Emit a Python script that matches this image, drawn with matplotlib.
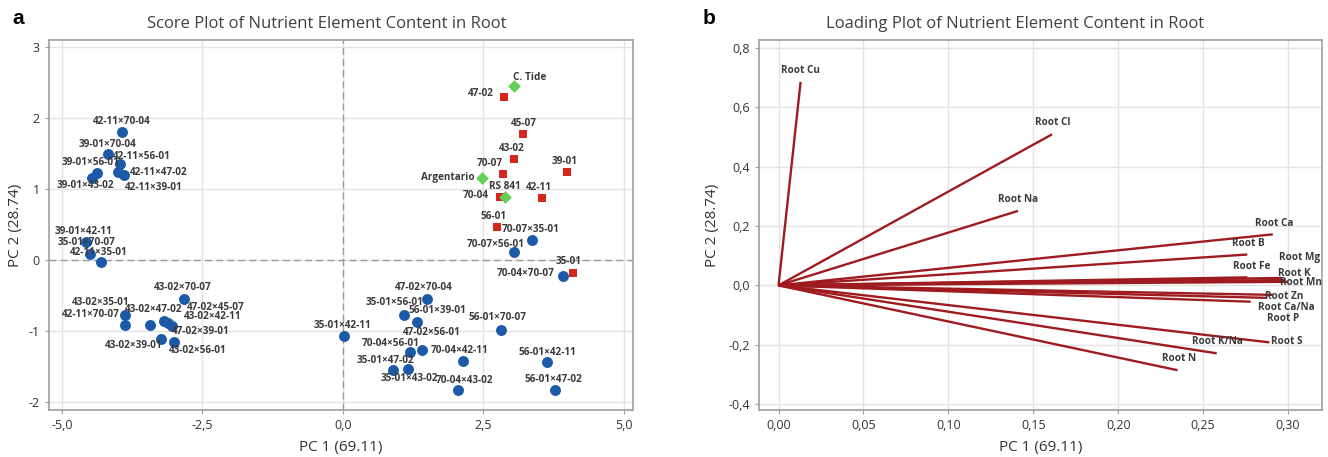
import matplotlib
matplotlib.use("Agg")
import matplotlib.pyplot as plt
from matplotlib.ticker import FuncFormatter

# ---------------- data ----------------
hybrid_labels = ["42-11×70-04", "39-01×70-04", "42-11×56-01", "42-11×47-02", "42-11×39-01",
                 "39-01×56-01", "39-01×43-02", "39-01×42-11", "35-01×70-07", "42-11×35-01",
                 "43-02×70-07", "43-02×35-01", "42-11×70-07", "43-02×47-02", "47-02×45-07",
                 "43-02×42-11", "47-02×39-01", "43-02×39-01", "43-02×56-01",
                 "47-02×70-04", "35-01×56-01", "56-01×39-01", "35-01×42-11", "47-02×56-01",
                 "70-04×56-01", "70-04×42-11", "35-01×47-02", "35-01×43-02", "70-04×43-02",
                 "56-01×70-07", "56-01×42-11", "56-01×47-02", "70-07×35-01", "70-07×56-01",
                 "70-04×70-07"]
hybrid_pc1 = [-3.93, -4.18, -3.97, -4.00, -3.89, -4.37, -4.47, -4.58, -4.50, -4.31,
              -2.83, -3.87, -3.88, -3.44, -3.18, -3.12, -3.05, -3.24, -3.01,
              1.49, 1.09, 1.31, 0.02, 1.40, 1.19, 2.13, 1.15, 0.89, 2.05,
              2.81, 3.63, 3.78, 3.37, 3.04, 3.91]
hybrid_pc2 = [1.81, 1.49, 1.35, 1.24, 1.20, 1.23, 1.15, 0.26, 0.09, -0.03,
              -0.54, -0.77, -0.91, -0.92, -0.85, -0.88, -0.93, -1.11, -1.15,
              -0.54, -0.77, -0.87, -1.07, -1.26, -1.29, -1.42, -1.53, -1.54, -1.83,
              -0.98, -1.44, -1.83, 0.28, 0.12, -0.22]

parent_labels = ["47-02", "45-07", "43-02", "70-07", "39-01", "70-04", "42-11", "56-01", "35-01"]
parent_pc1 = [2.87, 3.21, 3.05, 2.84, 3.98, 2.79, 3.54, 2.74, 4.09]
parent_pc2 = [2.30, 1.78, 1.43, 1.22, 1.24, 0.89, 0.87, 0.46, -0.18]

check_labels = ["C. Tide", "Argentario", "RS 841"]
check_pc1 = [3.05, 2.48, 2.88]
check_pc2 = [2.45, 1.16, 0.89]

loading_labels = ["Root Cu", "Root Cl", "Root Na", "Root Ca", "Root B", "Root Fe", "Root Mg",
                  "Root K", "Root Mn", "Root Zn", "Root Ca/Na", "Root P", "Root S",
                  "Root K/Na", "Root N"]
loading_pc1 = [0.013, 0.161, 0.141, 0.291, 0.276, 0.276, 0.296, 0.298, 0.300, 0.291, 0.278,
               0.287, 0.289, 0.258, 0.235]
loading_pc2 = [0.686, 0.509, 0.251, 0.172, 0.104, 0.027, 0.025, 0.018, 0.012, -0.032, -0.055,
               -0.042, -0.192, -0.229, -0.286]

# ---------------- label layout (pixel offsets) ----------------
hybrid_offsets = [(0, 10), (-1, 10), (22, 8), (41, 0), (29, -13), (-7, 10), (-6, -7), (-2, 10),
                  (-3, 11), (-2, 10), (-1, 11), (-25, 12), (-34, 10), (4, 16), (52, 13),
                  (45, 6), (29, -5), (-27, -7), (24, -9), (-3, 11), (-10, 12), (21, 11),
                  (-2, 11), (10, 17), (-19, 8), (-3, 10), (-22, 8), (16, -9), (6, 10),
                  (-3, 12), (0, 10), (-2, 11), (-2, 11), (-18, 7), (-37, 2)]
parent_offsets = [(-23, 3), (0, 10), (-3, 10), (-13, 10), (-2, 11), (-24, 1), (-3, 11),
                  (-3, 11), (-4, 11)]
check_offsets = [(15, 9), (-35, 0), (0, 10)]
loading_offsets = [(0, 11), (1, 12), (0, 11), (1, 11), (1, 11), (4, 11), (18, 20), (10, 7),
                   (13, -1), (11, -2), (36, -6), (17, -21), (17, 1), (1, 12), (1, 12)]

FONT = "Open Sans"
plt.rcParams["font.family"] = [FONT, "DejaVu Sans"]

fig = plt.figure(figsize=(13.28, 4.57), dpi=100)
axL = fig.add_axes([49 / 1328, 47 / 457, (633 - 49) / 1328, 370 / 457])
axR = fig.add_axes([759 / 1328, 47 / 457, (1322 - 759) / 1328, 370 / 457])

grid_c = "#e3e3e3"
spine_c = "#a0a0a0"
txt_c = "#333333"


def comma(fmt):
    return FuncFormatter(lambda v, p: (fmt % (0 if abs(v) < 1e-9 else v)).replace(".", ","))


def style(ax):
    ax.grid(True, color=grid_c, lw=1.0)
    ax.set_axisbelow(True)
    for s in ax.spines.values():
        s.set_color(spine_c)
        s.set_linewidth(1.2)
    ax.tick_params(colors=txt_c, labelsize=9, length=3, color=spine_c)


def annotate(ax, labels, xs, ys, offs):
    for lab, x, y, (dx, dy) in zip(labels, xs, ys, offs):
        ax.annotate(lab, (x, y), xytext=(dx, dy), textcoords="offset pixels",
                    ha="center", va="center", fontsize=7.2, fontweight="bold", color="#3a3a3a")


# ---------- left: score plot ----------
axL.set_xlim(-5.23, 5.16)
axL.set_ylim(-2.11, 3.1)
axL.set_xticks([-5, -2.5, 0, 2.5, 5])
axL.set_yticks([-2, -1, 0, 1, 2, 3])
axL.xaxis.set_major_formatter(comma("%.1f"))
axL.yaxis.set_major_formatter(FuncFormatter(lambda v, p: "%d" % round(v)))
axL.axhline(0, color="#9a9a9a", ls=(0, (5, 3)), lw=1.0, zorder=1)
axL.axvline(0, color="#9a9a9a", ls=(0, (5, 3)), lw=1.0, zorder=1)
axL.scatter(hybrid_pc1, hybrid_pc2, s=62, marker="o", color="#1c5aa8", zorder=3, linewidths=0)
axL.scatter(parent_pc1, parent_pc2, s=40, marker="s", color="#d7261e", zorder=3, linewidths=0)
axL.scatter(check_pc1, check_pc2, s=42, marker="D", color="#63cf57", zorder=3, linewidths=0)
annotate(axL, hybrid_labels, hybrid_pc1, hybrid_pc2, hybrid_offsets)
annotate(axL, parent_labels, parent_pc1, parent_pc2, parent_offsets)
annotate(axL, check_labels, check_pc1, check_pc2, check_offsets)
style(axL)
axL.set_xlabel("PC 1 (69.11)", fontsize=11, color=txt_c, labelpad=6)
axL.set_ylabel("PC 2 (28.74)", fontsize=11, color=txt_c, labelpad=4)
axL.set_title("Score Plot of Nutrient Element Content in Root", fontsize=12, color="#404040",
              x=0.475, pad=9)

# ---------- right: loading plot ----------
axR.set_xlim(-0.0115, 0.32)
axR.set_ylim(-0.42, 0.827)
axR.set_xticks([0, 0.05, 0.10, 0.15, 0.20, 0.25, 0.30])
axR.set_yticks([-0.4, -0.2, 0, 0.2, 0.4, 0.6, 0.8])
axR.xaxis.set_major_formatter(comma("%.2f"))
axR.yaxis.set_major_formatter(comma("%.1f"))
for x, y in zip(loading_pc1, loading_pc2):
    axR.plot([0, x], [0, y], color="#9e1b1f", lw=1.7, solid_capstyle="butt", zorder=3)
annotate(axR, loading_labels, loading_pc1, loading_pc2, loading_offsets)
style(axR)
axR.set_xlabel("PC 1 (69.11)", fontsize=11, color=txt_c, labelpad=6)
axR.set_ylabel("PC 2 (28.74)", fontsize=11, color=txt_c, labelpad=6)
axR.set_title("Loading Plot of Nutrient Element Content in Root", fontsize=12, color="#404040",
              x=0.455, pad=9)

fig.text(12 / 1328, 1 - 18 / 457, "a", fontsize=15, fontweight="bold", family="Liberation Sans",
         ha="left", va="center", color="black")
fig.text(703 / 1328, 1 - 18 / 457, "b", fontsize=15, fontweight="bold", family="Liberation Sans",
         ha="left", va="center", color="black")

fig.savefig("out.png", dpi=100)
